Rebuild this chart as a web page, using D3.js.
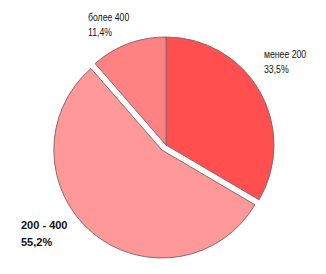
<!DOCTYPE html>
<html><head><meta charset="utf-8">
<script src="https://cdn.jsdelivr.net/npm/d3@7"></script>
<style>html,body{margin:0;padding:0;background:#fff;}</style>
</head><body>
<svg id="c" width="326" height="274"></svg>
<script>
const categories = ["менее 200", "200 - 400", "более 400"];
const values = [33.5, 55.2, 11.4];
const valueLabels = ["33,5%", "55,2%", "11,4%"];
const colors = ["#ff4f4f", "#ff9999", "#ff8282"];
const exploded = [false, true, false];
const boldLabel = [false, true, false];

const svg = d3.select("#c");
const cx = 166, cy = 145, r = 108, off = 6.5;
const pie = d3.pie().sort(null).value(d => d)(values);
const arc = d3.arc().innerRadius(0).outerRadius(r);
const g = svg.append("g").attr("transform", `translate(${cx},${cy})`);
g.selectAll("path").data(pie).join("path")
  .attr("d", arc)
  .attr("fill", (d, i) => colors[i])
  .attr("stroke", "#8a6868")
  .attr("stroke-width", 1)
  .attr("transform", (d, i) => {
    if (!exploded[i]) return null;
    const a = (d.startAngle + d.endAngle) / 2;
    return `translate(${off * Math.sin(a)},${-off * Math.cos(a)})`;
  });

const labelPos = [[264, 58], [21, 229], [88, 21]];
const font = "'Liberation Sans',Arial,sans-serif";
categories.forEach((c, i) => {
  const sx = boldLabel[i] ? 1 : 0.87;
  const t = svg.append("g")
    .attr("transform", `translate(${labelPos[i][0]},${labelPos[i][1]}) scale(${sx},1)`)
    .append("text")
    .attr("font-family", font)
    .attr("font-size", boldLabel[i] ? 11 : 10)
    .attr("font-weight", boldLabel[i] ? "bold" : "normal")
    .attr("fill", "#111");
  t.append("tspan").attr("x", 0).text(c);
  t.append("tspan").attr("x", 0).attr("dy", boldLabel[i] ? 16.5 : 15.5).text(valueLabels[i]);
});
</script>
</body></html>
